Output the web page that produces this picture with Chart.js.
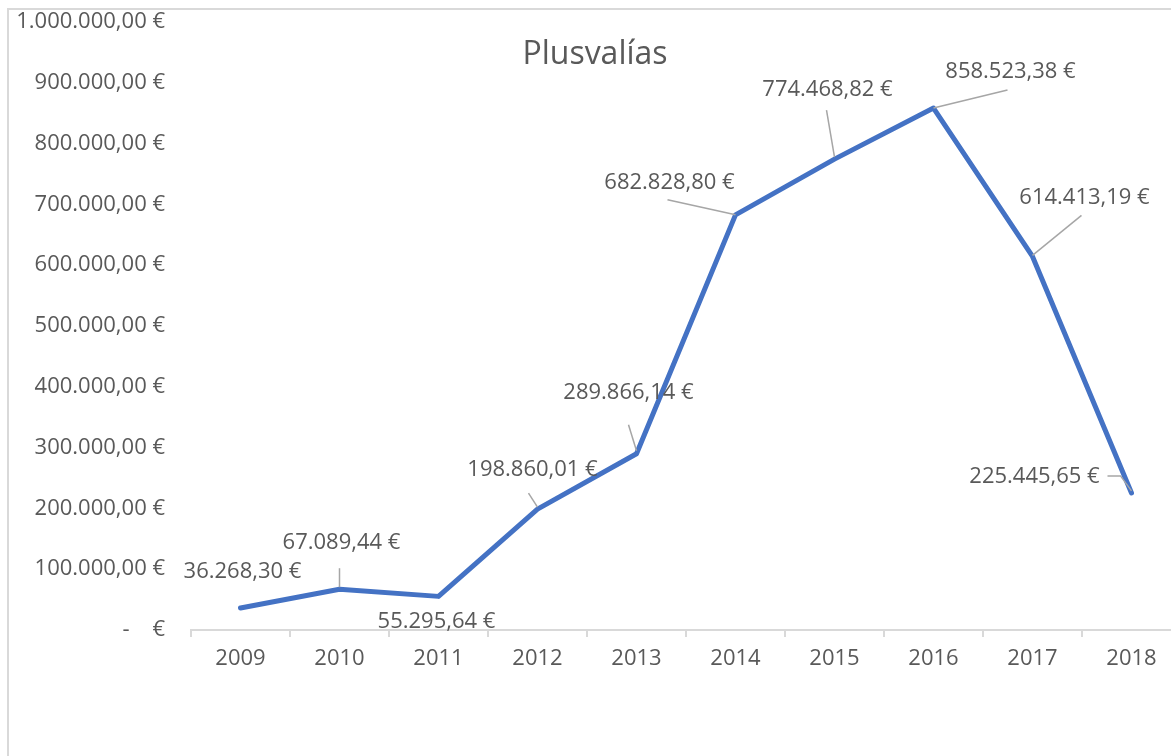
<!DOCTYPE html>
<html>
<head>
<meta charset="utf-8">
<script src="https://cdn.jsdelivr.net/npm/chart.js@4/dist/chart.umd.min.js"></script>
<style>
  html, body { margin: 0; padding: 0; background: #ffffff; overflow: hidden; width: 1171px; height: 756px; }
  #wrap { position: relative; width: 1171px; height: 756px; overflow: hidden; }
  canvas { position: absolute; left: 0; top: 0; }
  #frame { position: absolute; left: 7px; top: 8px; width: 1200px; height: 800px;
           border-left: 2px solid #d9d9d9; border-top: 2px solid #d9d9d9; pointer-events: none; }
</style>
</head>
<body>
<div id="wrap">
  <canvas id="c" width="1181" height="756"></canvas>
  <div id="frame"></div>
</div>
<script>
// ---- data ----
const years = ['2009','2010','2011','2012','2013','2014','2015','2016','2017','2018'];
const plusvalias = [36268.30, 67089.44, 55295.64, 198860.01, 289866.14, 682828.80, 774468.82, 858523.38, 614413.19, 225445.65];
const yTicks = [0, 100000, 200000, 300000, 400000, 500000, 600000, 700000, 800000, 900000, 1000000];
const chartTitle = 'Plusvalías';

// ---- label placement (pixel offsets from each point) ----
const labelOffsets = [[2,-36],[2,-46],[-2,25],[-5,-39],[-8,-61],[-66,-32],[-7,-69],[77,-36],[52,-59],[-97,-16]];
const leaderLines = [
  null,
  [[0,-2],[0,-21]],
  null,
  [[0,-2],[-9,-16]],
  [[0,-3],[-8,-29]],
  [[0,0],[-68,-15]],
  [[0,-2],[-8,-49]],
  [[0,0],[74,-18]],
  [[0,-1],[49,-41]],
  [[-24,-17],[-11,-17],[0,-2]]
];

const FONT = '"Open Sans", "Liberation Sans", sans-serif';
const TXT = '#595959';
const FS = 22;

function fmt(v) {
  const fixed = Math.abs(v).toFixed(2);
  let [ip, dp] = fixed.split('.');
  ip = ip.replace(/\B(?=(\d{3})+(?!\d))/g, '.');
  return ip + ',' + dp + ' €';
}

const labelPlugin = {
  id: 'labels',
  afterDatasetsDraw(chart) {
    const ctx = chart.ctx;
    const meta = chart.getDatasetMeta(0);
    ctx.save();
    // leader lines
    ctx.strokeStyle = '#a6a6a6';
    ctx.lineWidth = 1.5;
    meta.data.forEach((pt, i) => {
      const ll = leaderLines[i];
      if (!ll) return;
      ctx.beginPath();
      ll.forEach((o, k) => {
        if (k === 0) ctx.moveTo(pt.x + o[0], pt.y + o[1]);
        else ctx.lineTo(pt.x + o[0], pt.y + o[1]);
      });
      ctx.stroke();
    });
    // texts
    ctx.fillStyle = TXT;
    ctx.font = FS + 'px ' + FONT;
    ctx.textAlign = 'center';
    ctx.textBaseline = 'middle';
    meta.data.forEach((pt, i) => {
      const o = labelOffsets[i];
      ctx.fillText(fmt(plusvalias[i]), pt.x + o[0], pt.y + o[1]);
    });
    // title
    ctx.font = '32px ' + FONT;
    ctx.fillText(chartTitle, 595, 55);
    ctx.restore();
  }
};

new Chart(document.getElementById('c'), {
  type: 'line',
  data: {
    labels: years,
    datasets: [{
      data: plusvalias,
      borderColor: '#4472C4',
      borderWidth: 5,
      tension: 0,
      pointRadius: 0,
      pointHoverRadius: 0,
      borderCapStyle: 'round',
      borderJoinStyle: 'round',
      fill: false
    }]
  },
  options: {
    responsive: false,
    animation: false,
    devicePixelRatio: 1,
    layout: { padding: { top: 22, left: 0, right: 0, bottom: 0 } },
    plugins: { legend: { display: false }, title: { display: false }, tooltip: { enabled: false } },
    scales: {
      x: {
        offset: true,
        grid: { display: true, offset: true, drawOnChartArea: false, drawTicks: true, tickLength: 7, color: '#d9d9d9', lineWidth: 2 },
        border: { display: true, color: '#d9d9d9', width: 2 },
        ticks: { color: TXT, font: { family: FONT, size: FS }, padding: 9, maxRotation: 0, autoSkip: false },
        afterFit(s) { s.height = 126; s.paddingLeft = 0; s.paddingRight = 0; }
      },
      y: {
        min: 0,
        max: 1000000,
        afterBuildTicks(s) { s.ticks = yTicks.map(v => ({ value: v })); },
        grid: { display: false, drawTicks: false },
        border: { display: false },
        ticks: {
          color: TXT,
          font: { family: FONT, size: FS },
          padding: 26,
          callback(v) { return v === 0 ? '-    €' : fmt(v); }
        },
        afterFit(s) { s.width = 191; s.paddingTop = 0; s.paddingBottom = 0; }
      }
    }
  },
  plugins: [labelPlugin]
});
</script>
</body>
</html>
